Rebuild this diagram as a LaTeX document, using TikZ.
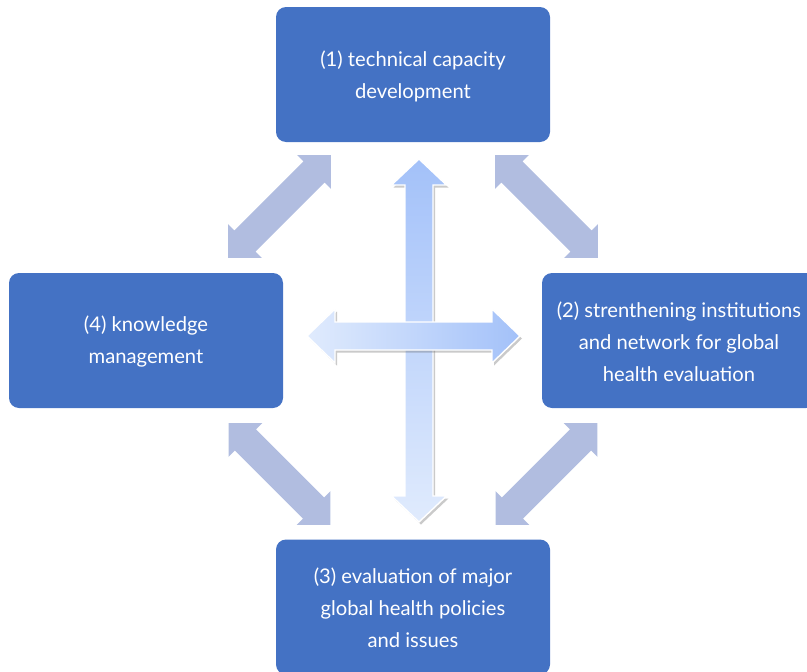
\documentclass[tikz,border=0pt]{standalone}
\usepackage{fontspec}
\setmainfont{Lato}
\usetikzlibrary{shadows}
\definecolor{boxblue}{HTML}{4472C4}
\definecolor{diagcol}{HTML}{B1BDE0}
\definecolor{darkgrad}{HTML}{A3C1F9}
\definecolor{lightgrad}{HTML}{E0EBFD}
\tikzset{
  box/.style={fill=boxblue, rounded corners=10pt, minimum width=274pt, minimum height=135pt, inner sep=0pt},
  boxtext/.style={text=white, align=center, font=\fontsize{20.2}{32}\selectfont, inner sep=0pt},
  pics/dbl/.style n args={4}{code={
    \fill[diagcol] (-#1,0) -- (-#1+#2,#3) -- (-#1+#2,#4) -- (#1-#2,#4) -- (#1-#2,#3) -- (#1,0)
      -- (#1-#2,-#3) -- (#1-#2,-#4) -- (-#1+#2,-#4) -- (-#1+#2,-#3) -- cycle;
  }},
  centerarrow/.style={draw=white, line width=1.4pt, line join=miter,
    drop shadow={opacity=0.35, shadow xshift=2pt, shadow yshift=-2.5pt, fill=black!60}}
}
\begin{document}
\begin{tikzpicture}[x=1pt,y=-1pt]
\clip (0,0) rectangle (807,672);
\useasboundingbox (0,0) rectangle (807,672);
% boxes
\node[box] (b1) at (413,74.5) {};
\node[box] (b4) at (146,340.5) {};
\node[box] (b2) at (679,340.5) {};
\node[box] (b3) at (413,607) {};
\node[boxtext] (t1) at ([yshift=-1.5pt]b1.center) {(1) technical capacity\\development};
\node[boxtext] (t4) at ([yshift=-1.5pt]b4.center) {(4) knowledge\\management};
\node[boxtext] (t2) at ([yshift=-1pt]b2.center) {(2) strenthening institutions\\and network for global\\health evaluation};
\node[boxtext] (t3) at ([yshift=-1pt]b3.center) {(3) evaluation of major\\global health policies\\and issues};
% diagonal arrows
\pic[shift={(279.5,206.5)}, rotate=45] {dbl={72.8}{24}{24}{15}};
\pic[shift={(546.5,206.5)}, rotate=-45] {dbl={72.8}{24}{24}{15}};
\pic[shift={(279.5,474)}, rotate=-45] {dbl={72.1}{24}{24}{15}};
\pic[shift={(546.5,474)}, rotate=45] {dbl={72.1}{24}{24}{15}};
% vertical center arrow
\begin{scope}[shift={(419,340.5)}]
\path[centerarrow, top color=darkgrad, bottom color=lightgrad]
  (0,-181.5) -- (27.5,-155.5) -- (14,-155.5) -- (14,155.5) -- (27.5,155.5) -- (0,181.5)
  -- (-27.5,155.5) -- (-14,155.5) -- (-14,-155.5) -- (-27.5,-155.5) -- cycle;
\end{scope}
% horizontal center arrow
\begin{scope}[shift={(413.5,336)}]
\path[centerarrow, left color=lightgrad, right color=darkgrad]
  (-106.5,0) -- (-78.5,-27) -- (-78.5,-14) -- (78.5,-14) -- (78.5,-27) -- (106.5,0)
  -- (78.5,27) -- (78.5,14) -- (-78.5,14) -- (-78.5,27) -- cycle;
\end{scope}
\end{tikzpicture}
\end{document}
